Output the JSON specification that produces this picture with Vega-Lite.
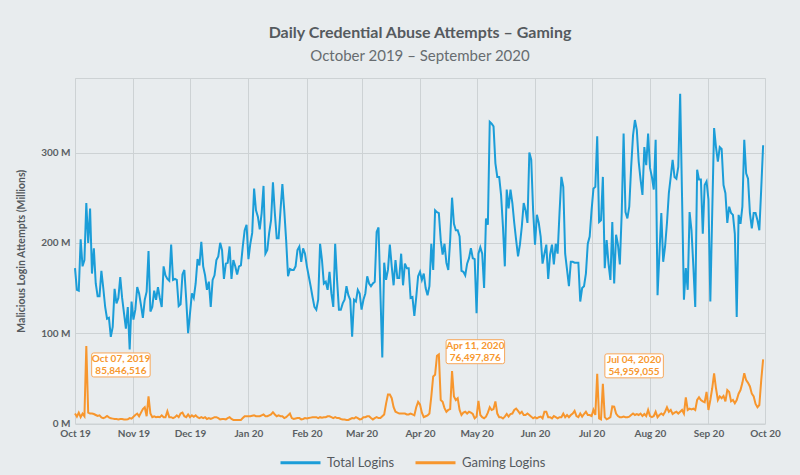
{
  "$schema": "https://vega.github.io/schema/vega-lite/v6.json",
  "width": 690,
  "height": 345.5,
  "autosize": "none",
  "padding": {"left": 75, "top": 78, "right": 35, "bottom": 51.5},
  "background": "#e8ecee",
  "title": {
    "text": "Daily Credential Abuse Attempts – Gaming",
    "subtitle": "October 2019 – September 2020",
    "anchor": "middle",
    "font": "Lato", "fontSize": 16, "fontWeight": "bold", "color": "#555a5e",
    "subtitleFont": "Lato", "subtitleFontSize": 15, "subtitleColor": "#676c70", "subtitleFontWeight": "normal",
    "subtitlePadding": 8, "offset": 14
  },
  "datasets": {
    "notes": [
      {"d": "2019-10-07", "v": 85.846516, "l": "Oct 07, 2019\n85,846,516"},
      {"d": "2020-04-11", "v": 76.497876, "l": "Apr 11, 2020\n76,497,876"},
      {"d": "2020-07-04", "v": 54.959055, "l": "Jul 04, 2020\n54,959,055"}
    ],
    "daily": [
{"d":"2019-10-01","t":172,"g":11},{"d":"2019-10-02","t":148,"g":7.5},{"d":"2019-10-03","t":147,"g":12},{"d":"2019-10-04","t":204,"g":7},{"d":"2019-10-05","t":174,"g":11},{"d":"2019-10-06","t":181,"g":8},{"d":"2019-10-07","t":244,"g":85.846516},{"d":"2019-10-08","t":200,"g":12},{"d":"2019-10-09","t":238,"g":11},{"d":"2019-10-10","t":166,"g":11},
{"d":"2019-10-11","t":194,"g":10.5},{"d":"2019-10-12","t":155,"g":9.4},{"d":"2019-10-13","t":141,"g":8.3},{"d":"2019-10-14","t":141,"g":9},{"d":"2019-10-15","t":169,"g":6.8},{"d":"2019-10-16","t":150,"g":6},{"d":"2019-10-17","t":129,"g":6.8},{"d":"2019-10-18","t":116,"g":8.3},{"d":"2019-10-19","t":117,"g":6.8},{"d":"2019-10-20","t":96,"g":5.7},
{"d":"2019-10-21","t":107,"g":5.4},{"d":"2019-10-22","t":149,"g":5},{"d":"2019-10-23","t":133,"g":5},{"d":"2019-10-24","t":139,"g":4.5},{"d":"2019-10-25","t":162,"g":5},{"d":"2019-10-26","t":139,"g":5},{"d":"2019-10-27","t":122,"g":4.5},{"d":"2019-10-28","t":105,"g":4.5},{"d":"2019-10-29","t":129,"g":4.6},{"d":"2019-10-30","t":82,"g":6},{"d":"2019-10-31","t":135,"g":5.4},
{"d":"2019-11-01","t":115,"g":7.5},{"d":"2019-11-02","t":126,"g":9.4},{"d":"2019-11-03","t":151,"g":11},{"d":"2019-11-04","t":144,"g":8},{"d":"2019-11-05","t":131,"g":12},{"d":"2019-11-06","t":117,"g":16},{"d":"2019-11-07","t":137,"g":18},{"d":"2019-11-08","t":146,"g":8},{"d":"2019-11-09","t":191,"g":30},{"d":"2019-11-10","t":124,"g":11},
{"d":"2019-11-11","t":129,"g":7},{"d":"2019-11-12","t":147,"g":8},{"d":"2019-11-13","t":137,"g":7},{"d":"2019-11-14","t":151,"g":7.5},{"d":"2019-11-15","t":139,"g":7},{"d":"2019-11-16","t":129,"g":9},{"d":"2019-11-17","t":174,"g":7},{"d":"2019-11-18","t":164,"g":7},{"d":"2019-11-19","t":160,"g":13.5},{"d":"2019-11-20","t":158,"g":7},
{"d":"2019-11-21","t":198,"g":7},{"d":"2019-11-22","t":159,"g":6},{"d":"2019-11-23","t":160,"g":7},{"d":"2019-11-24","t":159,"g":9},{"d":"2019-11-25","t":130,"g":7},{"d":"2019-11-26","t":132,"g":11},{"d":"2019-11-27","t":165,"g":12},{"d":"2019-11-28","t":170,"g":8},{"d":"2019-11-29","t":137,"g":7},{"d":"2019-11-30","t":100,"g":10},
{"d":"2019-12-01","t":122,"g":7},{"d":"2019-12-02","t":144,"g":9},{"d":"2019-12-03","t":139,"g":7.5},{"d":"2019-12-04","t":155,"g":9},{"d":"2019-12-05","t":182,"g":7},{"d":"2019-12-06","t":175,"g":6},{"d":"2019-12-07","t":201,"g":7},{"d":"2019-12-08","t":174,"g":6},{"d":"2019-12-09","t":164,"g":7},{"d":"2019-12-10","t":148,"g":5},
{"d":"2019-12-11","t":157,"g":6},{"d":"2019-12-12","t":129,"g":5},{"d":"2019-12-13","t":159,"g":6},{"d":"2019-12-14","t":164,"g":7},{"d":"2019-12-15","t":181,"g":7},{"d":"2019-12-16","t":185,"g":6},{"d":"2019-12-17","t":200,"g":4.5},{"d":"2019-12-18","t":192,"g":5},{"d":"2019-12-19","t":160,"g":5},{"d":"2019-12-20","t":177,"g":4.5},
{"d":"2019-12-21","t":178,"g":6},{"d":"2019-12-22","t":196,"g":7},{"d":"2019-12-23","t":160,"g":5},{"d":"2019-12-24","t":181,"g":4},{"d":"2019-12-25","t":174,"g":4},{"d":"2019-12-26","t":165,"g":4},{"d":"2019-12-27","t":174,"g":4},{"d":"2019-12-28","t":175,"g":4},{"d":"2019-12-29","t":196,"g":6},{"d":"2019-12-30","t":214,"g":8},{"d":"2019-12-31","t":220,"g":8},
{"d":"2020-01-01","t":182,"g":8},{"d":"2020-01-02","t":199,"g":8},{"d":"2020-01-03","t":211,"g":8.5},{"d":"2020-01-04","t":260,"g":9},{"d":"2020-01-05","t":236,"g":8},{"d":"2020-01-06","t":229,"g":8},{"d":"2020-01-07","t":215,"g":8},{"d":"2020-01-08","t":233,"g":9},{"d":"2020-01-09","t":263,"g":10},{"d":"2020-01-10","t":188,"g":8},
{"d":"2020-01-11","t":192,"g":8},{"d":"2020-01-12","t":211,"g":9},{"d":"2020-01-13","t":225,"g":10},{"d":"2020-01-14","t":267,"g":12.5},{"d":"2020-01-15","t":233,"g":10},{"d":"2020-01-16","t":205,"g":8},{"d":"2020-01-17","t":205,"g":9},{"d":"2020-01-18","t":236,"g":8},{"d":"2020-01-19","t":265,"g":8},{"d":"2020-01-20","t":236,"g":6},
{"d":"2020-01-21","t":203,"g":7},{"d":"2020-01-22","t":163,"g":9},{"d":"2020-01-23","t":171,"g":11},{"d":"2020-01-24","t":170,"g":6},{"d":"2020-01-25","t":170,"g":5},{"d":"2020-01-26","t":174,"g":5.5},{"d":"2020-01-27","t":192,"g":6},{"d":"2020-01-28","t":196,"g":6},{"d":"2020-01-29","t":179,"g":4.5},{"d":"2020-01-30","t":194,"g":5},{"d":"2020-01-31","t":188,"g":6},
{"d":"2020-02-01","t":174,"g":5.5},{"d":"2020-02-02","t":163,"g":6},{"d":"2020-02-03","t":152,"g":6.5},{"d":"2020-02-04","t":140,"g":7},{"d":"2020-02-05","t":129,"g":7},{"d":"2020-02-06","t":126,"g":7},{"d":"2020-02-07","t":137,"g":6},{"d":"2020-02-08","t":199,"g":7},{"d":"2020-02-09","t":181,"g":6.5},{"d":"2020-02-10","t":155,"g":7},
{"d":"2020-02-11","t":157,"g":7},{"d":"2020-02-12","t":148,"g":8},{"d":"2020-02-13","t":168,"g":8},{"d":"2020-02-14","t":144,"g":7},{"d":"2020-02-15","t":129,"g":6},{"d":"2020-02-16","t":199,"g":7},{"d":"2020-02-17","t":159,"g":6},{"d":"2020-02-18","t":126,"g":6},{"d":"2020-02-19","t":126,"g":5},{"d":"2020-02-20","t":133,"g":4.5},
{"d":"2020-02-21","t":137,"g":4.5},{"d":"2020-02-22","t":152,"g":4},{"d":"2020-02-23","t":142,"g":4},{"d":"2020-02-24","t":137,"g":5},{"d":"2020-02-25","t":96,"g":6},{"d":"2020-02-26","t":137,"g":5.5},{"d":"2020-02-27","t":135,"g":7},{"d":"2020-02-28","t":148,"g":6},{"d":"2020-02-29","t":144,"g":4.5},
{"d":"2020-03-01","t":126,"g":5},{"d":"2020-03-02","t":137,"g":7},{"d":"2020-03-03","t":144,"g":7},{"d":"2020-03-04","t":163,"g":8},{"d":"2020-03-05","t":155,"g":8},{"d":"2020-03-06","t":152,"g":6},{"d":"2020-03-07","t":155,"g":4.5},{"d":"2020-03-08","t":157,"g":6},{"d":"2020-03-09","t":212,"g":7},{"d":"2020-03-10","t":217,"g":6},
{"d":"2020-03-11","t":144,"g":6},{"d":"2020-03-12","t":73,"g":8},{"d":"2020-03-13","t":178,"g":10},{"d":"2020-03-14","t":159,"g":22},{"d":"2020-03-15","t":170,"g":32},{"d":"2020-03-16","t":198,"g":32},{"d":"2020-03-17","t":174,"g":28},{"d":"2020-03-18","t":153,"g":18},{"d":"2020-03-19","t":181,"g":13},{"d":"2020-03-20","t":161,"g":12},
{"d":"2020-03-21","t":161,"g":11},{"d":"2020-03-22","t":188,"g":11},{"d":"2020-03-23","t":153,"g":11},{"d":"2020-03-24","t":177,"g":11},{"d":"2020-03-25","t":172,"g":10},{"d":"2020-03-26","t":172,"g":10},{"d":"2020-03-27","t":139,"g":11},{"d":"2020-03-28","t":140,"g":10},{"d":"2020-03-29","t":119,"g":9},{"d":"2020-03-30","t":140,"g":18},{"d":"2020-03-31","t":163,"g":24},
{"d":"2020-04-01","t":168,"g":21},{"d":"2020-04-02","t":159,"g":12},{"d":"2020-04-03","t":166,"g":7},{"d":"2020-04-04","t":150,"g":8},{"d":"2020-04-05","t":142,"g":9},{"d":"2020-04-06","t":152,"g":11},{"d":"2020-04-07","t":199,"g":30},{"d":"2020-04-08","t":170,"g":52},{"d":"2020-04-09","t":236,"g":54},{"d":"2020-04-10","t":234,"g":75},
{"d":"2020-04-11","t":233,"g":76.497876},{"d":"2020-04-12","t":203,"g":26},{"d":"2020-04-13","t":187,"g":24},{"d":"2020-04-14","t":199,"g":17},{"d":"2020-04-15","t":178,"g":13},{"d":"2020-04-16","t":170,"g":15},{"d":"2020-04-17","t":203,"g":16},{"d":"2020-04-18","t":250,"g":58},{"d":"2020-04-19","t":221,"g":30},{"d":"2020-04-20","t":214,"g":26},
{"d":"2020-04-21","t":214,"g":28},{"d":"2020-04-22","t":207,"g":15},{"d":"2020-04-23","t":169,"g":9.4},{"d":"2020-04-24","t":168,"g":12},{"d":"2020-04-25","t":164,"g":13},{"d":"2020-04-26","t":177,"g":11},{"d":"2020-04-27","t":183,"g":13},{"d":"2020-04-28","t":194,"g":12},{"d":"2020-04-29","t":183,"g":10.5},{"d":"2020-04-30","t":182,"g":5.7},
{"d":"2020-05-01","t":122,"g":7.6},{"d":"2020-05-02","t":188,"g":25},{"d":"2020-05-03","t":195,"g":9.4},{"d":"2020-05-04","t":188,"g":7},{"d":"2020-05-05","t":150,"g":5.7},{"d":"2020-05-06","t":227,"g":7.6},{"d":"2020-05-07","t":220,"g":12},{"d":"2020-05-08","t":334,"g":18},{"d":"2020-05-09","t":332,"g":15},{"d":"2020-05-10","t":329,"g":16},
{"d":"2020-05-11","t":288,"g":24.5},{"d":"2020-05-12","t":273,"g":11},{"d":"2020-05-13","t":273,"g":7},{"d":"2020-05-14","t":253,"g":7},{"d":"2020-05-15","t":218,"g":5.5},{"d":"2020-05-16","t":174,"g":7.6},{"d":"2020-05-17","t":259,"g":10.5},{"d":"2020-05-18","t":238,"g":7.6},{"d":"2020-05-19","t":259,"g":10.5},{"d":"2020-05-20","t":244,"g":11},
{"d":"2020-05-21","t":222,"g":15},{"d":"2020-05-22","t":203,"g":16.4},{"d":"2020-05-23","t":185,"g":14},{"d":"2020-05-24","t":198,"g":11},{"d":"2020-05-25","t":218,"g":13},{"d":"2020-05-26","t":244,"g":9.4},{"d":"2020-05-27","t":236,"g":9.4},{"d":"2020-05-28","t":222,"g":11},{"d":"2020-05-29","t":300,"g":9.4},{"d":"2020-05-30","t":292,"g":7.6},{"d":"2020-05-31","t":236,"g":5.7},
{"d":"2020-06-01","t":198,"g":7},{"d":"2020-06-02","t":231,"g":5.7},{"d":"2020-06-03","t":222,"g":7},{"d":"2020-06-04","t":207,"g":7.6},{"d":"2020-06-05","t":177,"g":5.7},{"d":"2020-06-06","t":188,"g":13},{"d":"2020-06-07","t":198,"g":13},{"d":"2020-06-08","t":160,"g":7},{"d":"2020-06-09","t":187,"g":7},{"d":"2020-06-10","t":198,"g":5.7},
{"d":"2020-06-11","t":176,"g":8.3},{"d":"2020-06-12","t":199,"g":7},{"d":"2020-06-13","t":188,"g":5.7},{"d":"2020-06-14","t":233,"g":7},{"d":"2020-06-15","t":273,"g":7},{"d":"2020-06-16","t":262,"g":11},{"d":"2020-06-17","t":188,"g":7},{"d":"2020-06-18","t":170,"g":9.4},{"d":"2020-06-19","t":152,"g":7},{"d":"2020-06-20","t":179,"g":9.4},
{"d":"2020-06-21","t":179,"g":11},{"d":"2020-06-22","t":178,"g":14},{"d":"2020-06-23","t":178,"g":8.3},{"d":"2020-06-24","t":178,"g":7},{"d":"2020-06-25","t":135,"g":11},{"d":"2020-06-26","t":150,"g":7.6},{"d":"2020-06-27","t":152,"g":10.5},{"d":"2020-06-28","t":166,"g":13},{"d":"2020-06-29","t":199,"g":9.4},{"d":"2020-06-30","t":207,"g":9.4},
{"d":"2020-07-01","t":236,"g":8.3},{"d":"2020-07-02","t":260,"g":15},{"d":"2020-07-03","t":262,"g":9.4},{"d":"2020-07-04","t":318,"g":54.959055},{"d":"2020-07-05","t":223,"g":5.7},{"d":"2020-07-06","t":225,"g":4.6},{"d":"2020-07-07","t":273,"g":44},{"d":"2020-07-08","t":172,"g":7},{"d":"2020-07-09","t":203,"g":4.6},{"d":"2020-07-10","t":177,"g":5.7},
{"d":"2020-07-11","t":159,"g":7},{"d":"2020-07-12","t":223,"g":19},{"d":"2020-07-13","t":155,"g":18.6},{"d":"2020-07-14","t":209,"g":11},{"d":"2020-07-15","t":198,"g":8.3},{"d":"2020-07-16","t":176,"g":7},{"d":"2020-07-17","t":233,"g":7},{"d":"2020-07-18","t":321,"g":7.6},{"d":"2020-07-19","t":234,"g":7},{"d":"2020-07-20","t":227,"g":7},
{"d":"2020-07-21","t":240,"g":7.6},{"d":"2020-07-22","t":284,"g":9.4},{"d":"2020-07-23","t":319,"g":11},{"d":"2020-07-24","t":336,"g":9.4},{"d":"2020-07-25","t":325,"g":10.5},{"d":"2020-07-26","t":290,"g":9.4},{"d":"2020-07-27","t":270,"g":11},{"d":"2020-07-28","t":253,"g":8.3},{"d":"2020-07-29","t":306,"g":10.5},{"d":"2020-07-30","t":286,"g":8.3},{"d":"2020-07-31","t":321,"g":15},
{"d":"2020-08-01","t":283,"g":8.3},{"d":"2020-08-02","t":273,"g":7},{"d":"2020-08-03","t":259,"g":8.3},{"d":"2020-08-04","t":314,"g":13},{"d":"2020-08-05","t":142,"g":7},{"d":"2020-08-06","t":188,"g":9.4},{"d":"2020-08-07","t":233,"g":11},{"d":"2020-08-08","t":179,"g":9.4},{"d":"2020-08-09","t":196,"g":13},{"d":"2020-08-10","t":222,"g":18},
{"d":"2020-08-11","t":255,"g":13},{"d":"2020-08-12","t":273,"g":15},{"d":"2020-08-13","t":292,"g":10.5},{"d":"2020-08-14","t":273,"g":12},{"d":"2020-08-15","t":271,"g":13},{"d":"2020-08-16","t":284,"g":11},{"d":"2020-08-17","t":365,"g":13},{"d":"2020-08-18","t":251,"g":15},{"d":"2020-08-19","t":137,"g":11},{"d":"2020-08-20","t":172,"g":29},
{"d":"2020-08-21","t":148,"g":15},{"d":"2020-08-22","t":234,"g":16.4},{"d":"2020-08-23","t":214,"g":15.5},{"d":"2020-08-24","t":174,"g":16.4},{"d":"2020-08-25","t":129,"g":15},{"d":"2020-08-26","t":281,"g":26},{"d":"2020-08-27","t":270,"g":29},{"d":"2020-08-28","t":270,"g":26},{"d":"2020-08-29","t":210,"g":24.5},{"d":"2020-08-30","t":264,"g":23.5},{"d":"2020-08-31","t":268,"g":35},
{"d":"2020-09-01","t":248,"g":15},{"d":"2020-09-02","t":135,"g":26},{"d":"2020-09-03","t":233,"g":39},{"d":"2020-09-04","t":327,"g":55.6},{"d":"2020-09-05","t":306,"g":39},{"d":"2020-09-06","t":290,"g":26},{"d":"2020-09-07","t":306,"g":30},{"d":"2020-09-08","t":304,"g":28},{"d":"2020-09-09","t":264,"g":30.5},{"d":"2020-09-10","t":255,"g":24.5},
{"d":"2020-09-11","t":222,"g":37},{"d":"2020-09-12","t":240,"g":35},{"d":"2020-09-13","t":233,"g":24.5},{"d":"2020-09-14","t":231,"g":26},{"d":"2020-09-15","t":210,"g":22.5},{"d":"2020-09-16","t":118,"g":26},{"d":"2020-09-17","t":231,"g":33},{"d":"2020-09-18","t":221,"g":37},{"d":"2020-09-19","t":240,"g":45},{"d":"2020-09-20","t":314,"g":55.6},
{"d":"2020-09-21","t":277,"g":48},{"d":"2020-09-22","t":271,"g":45},{"d":"2020-09-23","t":233,"g":41},{"d":"2020-09-24","t":216,"g":33},{"d":"2020-09-25","t":233,"g":30},{"d":"2020-09-26","t":233,"g":21.6},{"d":"2020-09-27","t":225,"g":18},{"d":"2020-09-28","t":214,"g":20.5},{"d":"2020-09-29","t":260,"g":48},{"d":"2020-09-30","t":308,"g":71}
    ]
  },
  "encoding": {
    "x": {
      "field": "d", "type": "temporal",
      "scale": {"type": "utc", "domain": [{"year": 2019, "month": 10, "date": 1, "utc": true}, {"year": 2020, "month": 10, "date": 1, "utc": true}], "nice": false},
      "axis": {"format": "%b %y", "tickCount": "month", "labelPadding": 5, "title": null, "labelFlush": false, "labelOverlap": false}
    },
    "y": {
      "field": "v", "type": "quantitative",
      "scale": {"domain": [0, 382.5], "nice": false},
      "axis": {"values": [0, 100, 200, 300], "labelExpr": "datum.value + ' M'", "labelPadding": 5, "title": "Malicious Login Attempts (Millions)", "titlePadding": 14}
    }
  },
  "layer": [
    {
      "data": {"name": "daily"},
      "transform": [{"fold": ["t", "g"], "as": ["s", "v"]}],
      "mark": {"type": "line", "strokeWidth": 2},
      "encoding": {
        "color": {
          "field": "s", "type": "nominal",
          "scale": {"domain": ["t", "g"], "range": ["#1b9dd8", "#f7962d"]},
          "legend": {"title": null, "orient": "none", "legendX": 204, "legendY": 363, "direction": "horizontal",
            "labelExpr": "datum.label == 't' ? 'Total Logins' : 'Gaming Logins'",
            "symbolType": "stroke", "symbolSize": 1600, "symbolStrokeWidth": 3,
            "labelFont": "Lato", "labelFontSize": 13, "labelColor": "#555a5e", "labelOffset": 5, "columnPadding": 14}
        }
      }
    },
    {
      "data": {"name": "notes"},
      "transform": [{"filter": "datum.v > 80"}],
      "mark": {"type": "point", "shape": "M-0.93,-0.41H0.93Q1,-0.41 1,-0.34V0.34Q1,0.41 0.93,0.41H-0.93Q-1,0.41 -1,0.34V-0.34Q-1,-0.41 -0.93,-0.41Z", "size": 3422, "filled": true, "fill": "#ffffff", "stroke": "#f7a75a", "strokeWidth": 1, "opacity": 1, "xOffset": 34.6, "yOffset": 19}
    },
    {
      "data": {"name": "notes"},
      "transform": [{"filter": "datum.v > 70 && datum.v < 80"}],
      "mark": {"type": "point", "shape": "M-0.93,-0.41H0.93Q1,-0.41 1,-0.34V0.34Q1,0.41 0.93,0.41H-0.93Q-1,0.41 -1,0.34V-0.34Q-1,-0.41 -0.93,-0.41Z", "size": 3422, "filled": true, "fill": "#ffffff", "stroke": "#f7a75a", "strokeWidth": 1, "opacity": 1, "xOffset": 36.5, "yOffset": -2.7}
    },
    {
      "data": {"name": "notes"},
      "transform": [{"filter": "datum.v < 60"}],
      "mark": {"type": "point", "shape": "M-0.93,-0.41H0.93Q1,-0.41 1,-0.34V0.34Q1,0.41 0.93,0.41H-0.93Q-1,0.41 -1,0.34V-0.34Q-1,-0.41 -0.93,-0.41Z", "size": 3422, "filled": true, "fill": "#ffffff", "stroke": "#f7a75a", "strokeWidth": 1, "opacity": 1, "xOffset": 36.9, "yOffset": -8}
    },
    {
      "data": {"name": "notes"},
      "transform": [{"filter": "datum.v > 80"}],
      "mark": {"type": "text", "lineBreak": "\n", "font": "Lato", "fontSize": 10, "fontWeight": "bold", "color": "#f7982f", "align": "center", "baseline": "middle", "lineHeight": 12, "dx": 34.6, "dy": 13.5},
      "encoding": {"text": {"field": "l"}}
    },
    {
      "data": {"name": "notes"},
      "transform": [{"filter": "datum.v > 70 && datum.v < 80"}],
      "mark": {"type": "text", "lineBreak": "\n", "font": "Lato", "fontSize": 10, "fontWeight": "bold", "color": "#f7982f", "align": "center", "baseline": "middle", "lineHeight": 12, "dx": 36.5, "dy": -8.2},
      "encoding": {"text": {"field": "l"}}
    },
    {
      "data": {"name": "notes"},
      "transform": [{"filter": "datum.v < 60"}],
      "mark": {"type": "text", "lineBreak": "\n", "font": "Lato", "fontSize": 10, "fontWeight": "bold", "color": "#f7982f", "align": "center", "baseline": "middle", "lineHeight": 12, "dx": 36.9, "dy": -13.5},
      "encoding": {"text": {"field": "l"}}
    }
  ],
  "config": {
    "view": {"stroke": "#cdd2d4"},
    "axis": {
      "labelFont": "Lato", "labelFontSize": 10, "labelFontWeight": "bold", "labelColor": "#5a5f63",
      "titleFont": "Lato", "titleFontSize": 10.5, "titleFontWeight": "bold", "titleColor": "#555a5e",
      "domain": false, "ticks": false, "tickSize": 0, "gridColor": "#cdd2d4", "gridWidth": 1
    }
  }
}
